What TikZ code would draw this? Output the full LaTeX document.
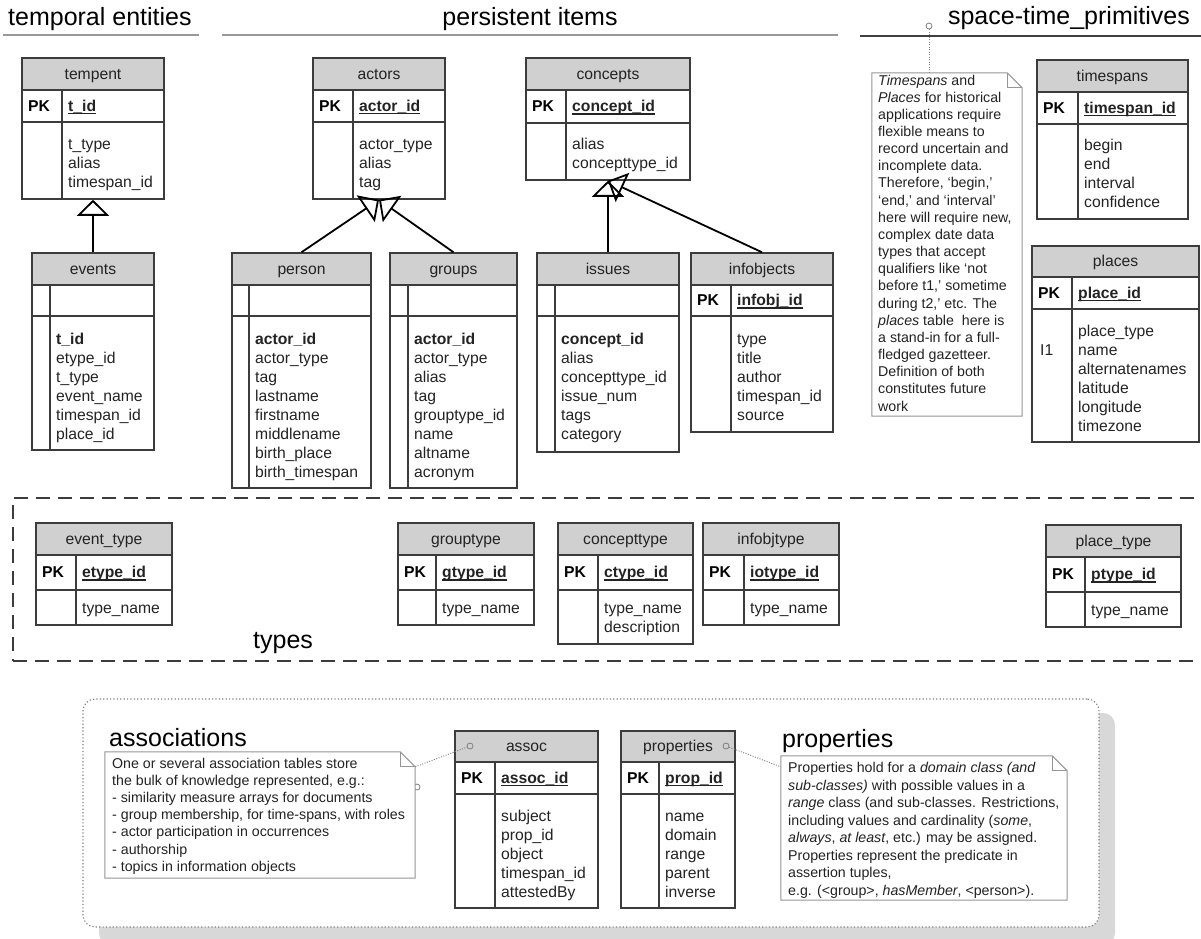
\documentclass[tikz,border=0pt]{standalone}
\usepackage{fontspec}
\setmainfont{Liberation Sans}
\usetikzlibrary{arrows.meta,calc}
\definecolor{hdr}{RGB}{208,208,208}
\definecolor{tline}{RGB}{60,60,60}
\definecolor{txt}{RGB}{35,35,35}
\definecolor{notec}{RGB}{150,150,150}
\definecolor{shadowc}{RGB}{216,216,216}
\newcommand\tabfont{\fontsize{15.7}{19}\selectfont}
\newcommand\headfont{\fontsize{25}{30}\selectfont}
\newcommand\notefont{\fontsize{14.2}{17}\selectfont}
\newcommand\ulf[1]{\setbox0=\hbox{#1}\rlap{\vrule width\wd0 height -1.9pt depth 3.2pt}\box0}
% table frame: name, x1, x2, xdiv, ytop, yhead, ypk, ybot, title
\newcommand\dbt[9]{%
  \fill[hdr] (#2,#5) rectangle (#3,#6);
  \node[tabbox, minimum width={(#3-#2)*1pt}, minimum height={(#8-#5)*1pt}] (#1) at ({(#2+#3)/2},{(#5+#8)/2}) {};
  \draw[tabline] (#2,#6) -- (#3,#6) (#2,#7) -- (#3,#7) (#4,#6) -- (#4,#8);
  \node[tabtitle] (#1-title) at ({(#2+#3)/2},{(#5+#6)/2+5}) {#9};
  \coordinate (#1-pkl) at ({#2+6},{(#6+#7)/2+5});
  \coordinate (#1-pkf) at ({#4+6},{(#6+#7)/2+5});
}
\newcommand\dbpk[3]{%
  \node[pk] (#1-pk) at (#1-pkl) {#2};
  \node[fld] (#1-key) at (#1-pkf) {#3};}
\newcommand\dbbody[4]{%
  \foreach \s [count=\i] in {#4} \node[fld] (#1-f\i) at (#2,{#3+(\i-1)*19}) {\s};}
\newcommand\mknote[5]{%
  \node[inner sep=0, minimum width={(#4-#2)*1pt}, minimum height={(#5-#3)*1pt}] (#1) at ({(#2+#4)/2},{(#3+#5)/2}) {};
  \draw[noteshape] (#1.north west) -- ([xshift=-15pt]#1.north east) -- ([yshift=-15pt]#1.north east) -- (#1.south east) -- (#1.south west) -- cycle;
  \draw[notec, line width=1pt] ([xshift=-15pt]#1.north east) -- ([xshift=-15pt,yshift=-15pt]#1.north east) -- ([yshift=-15pt]#1.north east);}
\newcommand\notelines[5]{%
  \foreach \s [count=\i] in {#5} \node[notetxt] (#1-l\i) at (#2,{#3+(\i-1)*#4}) {\s};}
\begin{document}
\begin{tikzpicture}[x=1pt,y=-1pt,
  tabbox/.style={draw=tline, line width=1.5pt, inner sep=0},
  tabline/.style={draw=tline, line width=1.5pt},
  tabtitle/.style={anchor=base, inner sep=0, text=txt, font=\tabfont},
  fld/.style={anchor=base west, inner sep=0, text=txt, font=\tabfont},
  pk/.style={anchor=base west, inner sep=0, text=black, font=\tabfont\bfseries},
  heading/.style={inner sep=0, font=\headfont, text=black},
  notetxt/.style={anchor=base west, inner sep=0, font=\notefont, text=txt},
  noteshape/.style={draw=notec, line width=1pt, fill=white},
  dotline/.style={draw=gray, line width=0.9pt, dash pattern=on 1pt off 1.5pt},
  pinc/.style={circle, draw=gray, line width=0.8pt, minimum size=6pt, inner sep=0},
  inh/.style={draw=black, line width=1.8pt, -{Triangle[open, length=16pt, width=32pt]}},
  rulegray/.style={draw=gray!80, line width=2pt}
]
\useasboundingbox (0,0) rectangle (1201,938);

% headings
\node[heading, anchor=base west] (h-temporal) at (8,25) {temporal entities};
\node[heading, anchor=base] (h-persistent) at (530,25) {persistent items};
\node[heading, anchor=base east] (h-spacetime) at (1190,24) {space-time\_primitives};
\draw[rulegray] (3,35) -- (199,35);
\draw[rulegray] (222,35) -- (838,35);
\draw[draw=black!75, line width=2pt] (860,36) -- (1201,36);

% temporal entities
\dbt{tempent}{22}{164}{62}{58}{90}{122}{199}{tempent}
\dbpk{tempent}{PK}{\ulf{\textbf{t\_id}}}
\dbbody{tempent}{68}{149}{t\_type,alias,timespan\_id}

\dbt{events}{32}{154}{50}{253}{285}{316}{450}{events}
\dbbody{events}{56}{344}{\textbf{t\_id},etype\_id,t\_type,event\_name,timespan\_id,place\_id}

% persistent items
\dbt{actors}{313}{445}{353}{58}{90}{122}{199}{actors}
\dbpk{actors}{PK}{\ulf{\textbf{actor\_id}}}
\dbbody{actors}{359}{149}{actor\_type,alias,tag}

\dbt{person}{232}{371}{249}{253}{285}{316}{488}{person}
\dbbody{person}{255}{344}{\textbf{actor\_id},actor\_type,tag,lastname,firstname,middlename,birth\_place,birth\_timespan}

\dbt{groups}{390}{517}{408}{253}{285}{316}{488}{groups}
\dbbody{groups}{414}{344}{\textbf{actor\_id},actor\_type,alias,tag,grouptype\_id,name,altname,acronym}

\dbt{concepts}{526}{690}{566}{58}{90}{123}{180}{concepts}
\dbpk{concepts}{PK}{\ulf{\textbf{concept\_id}}}
\dbbody{concepts}{572}{149}{alias,concepttype\_id}

\dbt{issues}{537}{679}{555}{253}{285}{316}{452}{issues}
\dbbody{issues}{561}{344}{\textbf{concept\_id},alias,concepttype\_id,issue\_num,tags,category}

\dbt{infobjects}{691}{833}{731}{253}{285}{316}{432}{infobjects}
\dbpk{infobjects}{PK}{\ulf{\textbf{infobj\_id}}}
\dbbody{infobjects}{737}{344}{type,title,author,timespan\_id,source}

% inheritance
\draw[inh] (events.north) -- (tempent.south);
\draw[inh] (person.north) -- (actors.south);
\draw[inh] (groups.north) -- (actors.south);
\draw[inh] (issues.north) -- (concepts.south);
\draw[inh] (infobjects.north) -- (concepts.south);

% space-time primitives
\mknote{tsnote}{872}{73}{1022}{416}
\notelines{tsnote}{878}{85}{17.16}{{\textit{Timespans} and},{\textit{Places} for historical},{applications require},{flexible means to},{record uncertain and},{incomplete data.},{Therefore, ‘begin,’},{‘end,’ and ‘interval’},{here will require new,},{complex date data},{types that accept},{qualifiers like ‘not},{before t1,’ sometime},{during t2,’ etc. The},{\textit{places} table\ \ here is},{a stand-in for a full-},{fledged gazetteer.},{Definition of both},{constitutes future},{work}}
\node[pinc] (tspin) at (929,26) {};
\draw[dotline] (tspin) -- (tspin |- tsnote.north);

\dbt{timespans}{1037}{1188}{1078}{60}{92}{124}{219}{timespans}
\dbpk{timespans}{PK}{\ulf{\textbf{timespan\_id}}}
\dbbody{timespans}{1084}{150}{begin,end,interval,confidence}

\dbt{places}{1032}{1199}{1072}{246}{277}{309}{442}{places}
\dbpk{places}{PK}{\ulf{\textbf{place\_id}}}
\dbbody{places}{1078}{336}{place\_type,name,alternatenames,latitude,longitude,timezone}
\node[fld] (places-idx) at (1040,355) {I1};

% types
\node[draw=tline, line width=2.2pt, dash pattern=on 14pt off 8pt, inner sep=0, minimum width=1202pt, minimum height=163pt] (typesframe) at (614,579.5) {};
\node[heading, anchor=base west] (h-types) at (253,648) {types};

\dbt{eventtype}{36}{172}{76}{523}{555}{590}{625}{event\_type}
\dbpk{eventtype}{PK}{\ulf{\textbf{etype\_id}}}
\dbbody{eventtype}{82}{613}{type\_name}

\dbt{grouptype}{398}{534}{436}{523}{555}{590}{625}{grouptype}
\dbpk{grouptype}{PK}{\ulf{\textbf{gtype\_id}}}
\dbbody{grouptype}{442}{613}{type\_name}

\dbt{concepttype}{558}{693}{598}{523}{555}{590}{644}{concepttype}
\dbpk{concepttype}{PK}{\ulf{\textbf{ctype\_id}}}
\dbbody{concepttype}{604}{613}{type\_name,description}

\dbt{infobjtype}{703}{839}{744}{523}{555}{590}{625}{infobjtype}
\dbpk{infobjtype}{PK}{\ulf{\textbf{iotype\_id}}}
\dbbody{infobjtype}{750}{613}{type\_name}

\dbt{placetype}{1046}{1181}{1085}{525}{557}{592}{627}{place\_type}
\dbpk{placetype}{PK}{\ulf{\textbf{ptype\_id}}}
\dbbody{placetype}{1091}{615}{type\_name}

% associations and properties
\fill[shadowc, rounded corners=12pt] (99,713) rectangle (1115,945);
\node[draw=gray, line width=1.1pt, dash pattern=on 1.2pt off 2.2pt, rounded corners=12pt, fill=white, inner sep=0, minimum width=1016pt, minimum height=228pt] (assocframe) at (591,813) {};

\node[heading, anchor=base west] (h-assoc) at (109,746) {associations};
\node[pinc] (apin2) at (417,787) {};
\mknote{anote}{105}{752}{415}{878}
\notelines{anote}{112}{768.5}{17.1}{{One or several association tables store},{the bulk of knowledge represented, e.g.:},{- similarity measure arrays for documents},{- group membership, for time-spans, with roles},{- actor participation in occurrences},{- authorship},{- topics in information objects}}

\dbt{assoc}{455}{598}{495}{731}{762}{794}{908}{assoc}
\dbpk{assoc}{PK}{\ulf{\textbf{assoc\_id}}}
\dbbody{assoc}{501}{821}{subject,prop\_id,object,timespan\_id,attestedBy}
\node[pinc] (apin) at (470,746) {};
\draw[dotline] ([yshift=-15pt]anote.north east) -- (apin);

\dbt{properties}{621}{735}{659}{731}{762}{794}{908}{properties}
\dbpk{properties}{PK}{\ulf{\textbf{prop\_id}}}
\dbbody{properties}{665}{821}{name,domain,range,parent,inverse}
\node[pinc] (ppin) at (726,746) {};

\node[heading, anchor=base west] (h-props) at (782,747) {properties};
\mknote{pnote}{781}{756}{1067}{900}
\notelines{pnote}{788}{772.5}{17.5}{{Properties hold for a \textit{domain class (and}},{\textit{sub-classes)} with possible values in a},{\textit{range} class (and sub-classes. Restrictions,},{including values and cardinality (\textit{some},},{\textit{always}, \textit{at least}, etc.) may be assigned.},{Properties represent the predicate in},{assertion tuples,},{e.g. (<group>, \textit{hasMember}, <person>).}}
\draw[dotline] (ppin) -- ([yshift=-11pt]pnote.north west);
\end{tikzpicture}
\end{document}
